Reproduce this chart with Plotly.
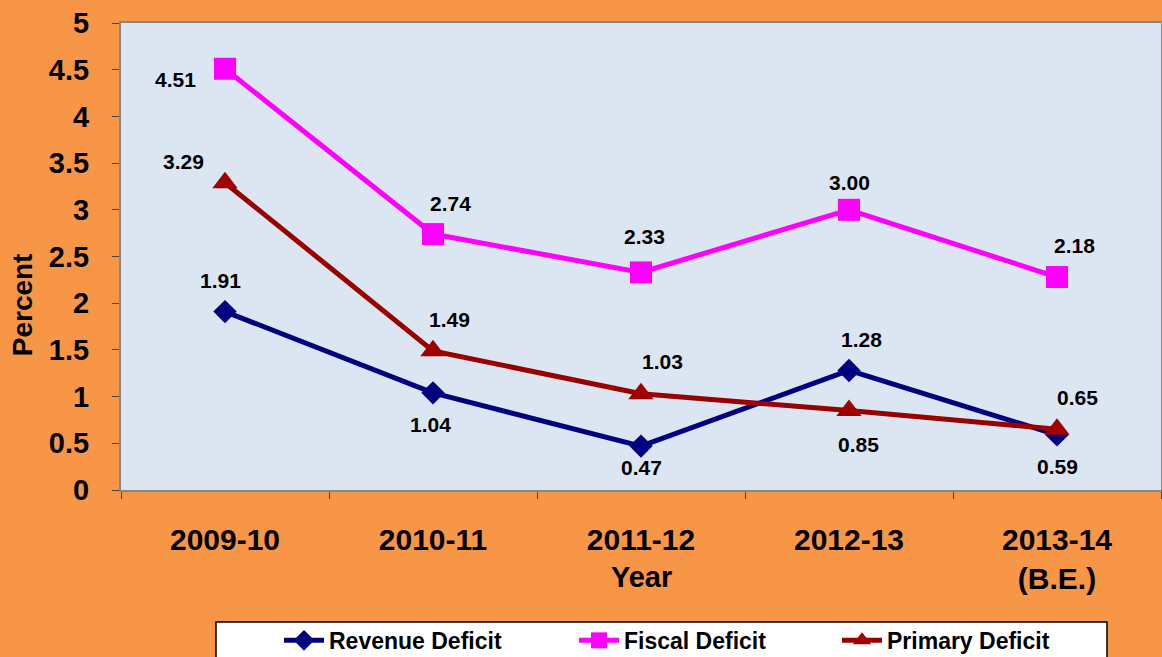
import plotly.graph_objects as go

years = ["2009-10", "2010-11", "2011-12", "2012-13", "2013-14<br>(B.E.)"]
revenue = [1.91, 1.04, 0.47, 1.28, 0.59]
fiscal = [4.51, 2.74, 2.33, 3.00, 2.28]
primary = [3.29, 1.49, 1.03, 0.85, 0.65]
revenue_labels = ["1.91", "1.04", "0.47", "1.28", "0.59"]
fiscal_labels = ["4.51", "2.74", "2.33", "3.00", "2.18"]
primary_labels = ["3.29", "1.49", "1.03", "0.85", "0.65"]
y_ticks = [0, 0.5, 1, 1.5, 2, 2.5, 3, 3.5, 4, 4.5, 5]
y_tick_text = ["0", "0.5", "1", "1.5", "2", "2.5", "3", "3.5", "4", "4.5", "5"]

FONT = "Liberation Sans, Arial, sans-serif"

fig = go.Figure()
fig.add_trace(go.Scatter(x=years, y=revenue, name="<b>Revenue Deficit</b>", mode="lines+markers",
                         line=dict(color="#000080", width=5),
                         marker=dict(symbol="diamond", size=18, color="#000080"),
                         legend="legend"))
fig.add_trace(go.Scatter(x=years, y=fiscal, name="<b>Fiscal Deficit</b>", mode="lines+markers",
                         line=dict(color="#FF00FF", width=5),
                         marker=dict(symbol="square", size=22, color="#FF00FF"),
                         legend="legend2"))
fig.add_trace(go.Scatter(x=years, y=primary, name="<b>Primary Deficit</b>", mode="lines+markers",
                         line=dict(color="#990000", width=5),
                         marker=dict(symbol="triangle-up", size=22, color="#A00000"),
                         legend="legend3"))

rev_shift = [(-5, 31), (-3, -32), (0, -21), (12, 31), (0, -32)]
fis_shift = [(-50, -11), (17, 31), (3, 36), (0, 27), (17, 32)]
pri_shift = [(-42, 21), (16, 31), (21, 32), (9, -34), (20, 32)]

for vals, labs, shifts in [(revenue, revenue_labels, rev_shift),
                           (fiscal, fiscal_labels, fis_shift),
                           (primary, primary_labels, pri_shift)]:
    for xv, yv, t, (dx, dy) in zip(years, vals, labs, shifts):
        fig.add_annotation(x=xv, y=yv, text="<b>%s</b>" % t, showarrow=False,
                           xshift=dx, yshift=dy,
                           font=dict(family=FONT, size=21, color="black"))

fig.add_annotation(x=0.5, y=-0.186, xref="paper", yref="paper", text="<b>Year</b>",
                   xanchor="center", yanchor="middle",
                   showarrow=False, font=dict(family=FONT, size=29, color="black"))
fig.add_annotation(x=-0.095, y=0.396, xref="paper", yref="paper", text="<b>Percent</b>",
                   xanchor="center", yanchor="middle",
                   textangle=-90, showarrow=False, font=dict(family=FONT, size=28, color="black"))

# legend frame
fig.add_shape(type="rect", xref="paper", yref="paper",
              x0=(216 - 121) / 1040, x1=(1107 - 121) / 1040,
              y0=-(622 - 490) / 467, y1=-0.40,
              fillcolor="white", line=dict(color="black", width=1.5), layer="above")

leg_common = dict(orientation="h", yanchor="top", xanchor="left", y=-0.276,
                  bgcolor="rgba(0,0,0,0)", borderwidth=0,
                  font=dict(family=FONT, size=23, color="black"), itemwidth=40)
fig.update_layout(
    width=1162, height=657,
    margin=dict(l=121, r=1, t=23, b=167, autoexpand=False),
    paper_bgcolor="#F79646",
    plot_bgcolor="#DCE6F2",
    font=dict(family=FONT, color="black"),
    showlegend=True,
    legend=dict(x=(279 - 121) / 1040, **leg_common),
    legend2=dict(x=(574 - 121) / 1040, **leg_common),
    legend3=dict(x=(837 - 121) / 1040, **leg_common),
)
fig.update_xaxes(type="category", range=[-0.5, 4.5], showgrid=False, zeroline=False,
                 showline=True, linecolor="#868686", linewidth=2, mirror=True,
                 ticks="outside", tickson="boundaries", ticklen=7, tickcolor="#444",
                 ticklabelstandoff=22,
                 tickfont=dict(family=FONT, size=30, color="black"),
                 tickprefix="<b>", ticksuffix="</b>")
fig.update_yaxes(range=[0, 5], tickvals=y_ticks, ticktext=["<b>%s</b>" % t for t in y_tick_text],
                 showgrid=False, zeroline=False,
                 showline=True, linecolor="#868686", linewidth=2, mirror=True,
                 ticks="outside", ticklen=7, tickcolor="#444", ticklabelstandoff=17,
                 tickfont=dict(family=FONT, size=29, color="black"))

fig.write_html("out.html", config={"displayModeBar": False},
               post_script="document.body.style.margin='0';document.body.style.overflow='hidden';")
